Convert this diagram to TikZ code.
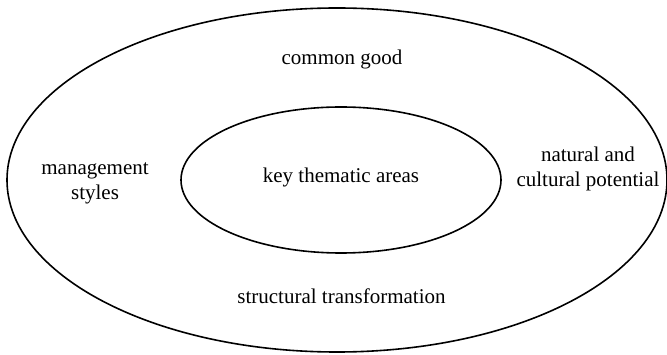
\documentclass[tikz,border=0pt]{standalone}
\usepackage{fontspec}
\setmainfont{Liberation Serif}
\begin{document}
\begin{tikzpicture}[x=1pt,y=-1pt,
  lbl/.style={align=center,font=\fontsize{21}{25}\selectfont,inner sep=0pt},
  ring/.style={line width=1.6pt}]
\useasboundingbox (0,0) rectangle (667,355);
\coordinate (c) at (337,180);
\coordinate (ci) at (341,180);
\draw[ring] (c) ellipse [x radius=330, y radius=172];
\draw[ring] (ci) ellipse [x radius=160, y radius=73];
\node[lbl] (cg) at (342,59) {common good};
\node[lbl] (ms) at (95,183) {management\\styles};
\node[lbl] (nc) at (588,169) {natural and\\cultural potential};
\node[lbl] (kt) at (341,177) {key thematic areas};
\node[lbl] (st) at (341.5,296) {structural transformation};
\end{tikzpicture}
\end{document}
